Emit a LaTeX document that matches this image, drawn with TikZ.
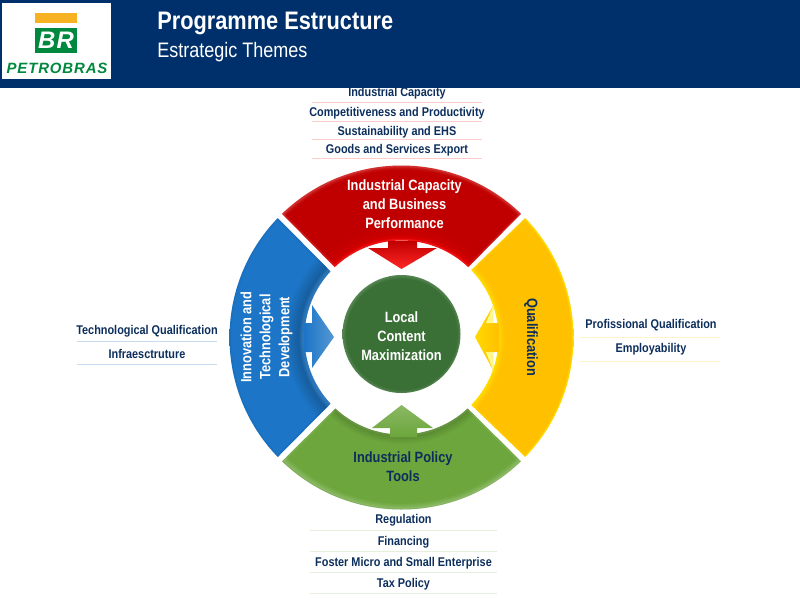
\documentclass[tikz,border=0pt]{standalone}
\usepackage{fontspec}
\setmainfont[FakeStretch=0.86]{Liberation Sans}
\newfontfamily\logofont[LetterSpace=6]{Liberation Sans}
\usepackage{xcolor}
\definecolor{navy}{RGB}{0,48,107}
\definecolor{darknavy}{RGB}{12,46,92}
\definecolor{logogreen}{RGB}{0,136,62}
\definecolor{logoyellow}{RGB}{247,178,35}
\definecolor{hubgreen}{RGB}{58,112,54}
\definecolor{brandred}{RGB}{192,0,0}
\definecolor{brandblue}{RGB}{28,117,198}
\definecolor{brandyellow}{RGB}{255,192,0}
\definecolor{brandgreen}{RGB}{108,166,60}
\pgfdeclareradialshading{redband}{\pgfpoint{0bp}{0bp}}{color(0bp)=(brandred); color(14bp)=(red!80!brandred); color(15bp)=(brandred!85!red); color(16.5bp)=(brandred); color(24.4bp)=(brandred); color(25bp)=(brandred!85!white); color(50bp)=(brandred)}
\pgfdeclareradialshading{blueband}{\pgfpoint{0bp}{0bp}}{color(0bp)=(brandblue); color(14bp)=(brandblue!85!white); color(15bp)=(brandblue!80!black); color(17bp)=(brandblue); color(25bp)=(brandblue); color(50bp)=(brandblue)}
\pgfdeclareradialshading{yellowband}{\pgfpoint{0bp}{0bp}}{color(0bp)=(brandyellow); color(14bp)=(yellow!40!brandyellow); color(15bp)=(brandyellow); color(24.6bp)=(brandyellow); color(25bp)=(yellow!40!brandyellow); color(50bp)=(brandyellow)}
\pgfdeclareradialshading{greenband}{\pgfpoint{0bp}{0bp}}{color(0bp)=(brandgreen); color(14bp)=(brandgreen!80!black); color(15.5bp)=(brandgreen); color(24bp)=(brandgreen); color(24.8bp)=(brandgreen!80!white); color(25bp)=(brandgreen!90!black); color(50bp)=(brandgreen)}
\pgfdeclareradialshading{hubshade}{\pgfpoint{0bp}{0bp}}{color(0bp)=(hubgreen); color(23.5bp)=(hubgreen); color(25bp)=(hubgreen!85!white); color(50bp)=(hubgreen)}
\newcommand{\bandpath}[4]{(#1:172) arc[start angle=#1,end angle=#2,radius=172] -- (#3:97) arc[start angle=#3,end angle=#4,radius=97] -- cycle}
\newcommand{\ringband}[6]{%
  \begin{scope}
    \clip \bandpath{#1}{#2}{#3}{#4};
    \shade[shading=#5] (0,0) circle[radius=172];
    \draw[#6,opacity=0.18,line width=2.5pt] \bandpath{#1}{#2}{#3}{#4};
  \end{scope}}
\tikzset{
  item/.style={font=\fontsize{9}{10}\selectfont\bfseries,text=darknavy,inner sep=0pt},
  bandlabel/.style={font=\fontsize{10.6}{13.5}\selectfont\bfseries,align=center,inner sep=0pt},
}
\begin{document}
\begin{tikzpicture}[x=0.025cm,y=-0.025cm]
  \useasboundingbox (0,0) rectangle (800,600);
  % Header
  \fill[navy] (0,0) rectangle (800,87.5);
  \fill[white] (2,3) rectangle (110.5,78.5);
  \fill[logoyellow] (35,13) rectangle (76.5,23);
  \fill[logogreen] (35,28) rectangle (76.5,53);
  \node[font=\logofont\fontsize{17}{18}\selectfont\bfseries\itshape,text=white,inner sep=0pt] (brtext) at (56,40){BR};
  \node[font=\logofont\fontsize{10.6}{12}\selectfont\bfseries\itshape,text=logogreen,inner sep=0pt] (logotext) at (57,68){PETROBRAS};
  \node[anchor=west,font=\fontsize{18}{20}\selectfont\bfseries,text=white,inner sep=0pt] (title) at (157,23.5){Programme Estructure};
  \node[anchor=west,font=\fontsize{14.9}{18}\selectfont,text=white,inner sep=0pt] (subtitle) at (157,52.5){Estrategic Themes};
  % Ring
  \begin{scope}[shift={(401.5,337.5)},x=0.025cm,y=0.025cm]
    \ringband{134}{46}{46.5}{133.5}{redband}{red!60!white}
    \ringband{136}{224}{223}{137}{blueband}{brandblue!80!black}
    \ringband{226}{314}{313}{227}{greenband}{brandgreen!60!white}
    \ringband{-44}{44}{44}{-44}{yellowband}{yellow}
    \shade[shading=hubshade] (0,3.5) circle[radius=59];
  \end{scope}
  % Arrows
  \shade[top color=brandred,bottom color=red!85!white] (388,241)--(417,241)--(417,248)--(437,248)--(401.5,269)--(368,248)--(388,248)--cycle;
  \shade[left color=brandblue,right color=brandblue!75!white] (304,323)--(312,323)--(312,305)--(334,337)--(312,368)--(312,352)--(304,352)--cycle;
  \shade[left color=yellow!40!brandyellow,right color=brandyellow] (475,337)--(493,306)--(493,323)--(499,323)--(499,352)--(493,352)--(493,370)--cycle;
  \fill[yellow!45!white] (493,306)--(493,323)--(486,323)--cycle;
  \fill[yellow!45!white] (493,370)--(493,352)--(486,352)--cycle;
  \shade[top color=brandgreen!80!white,bottom color=brandgreen] (401.5,405)--(433,428)--(417,428)--(417,437)--(390,437)--(390,428)--(372,428)--cycle;
  % Band labels
  \node[bandlabel,text=white] (capacity) at (404.5,204){Industrial Capacity\\and Business\\Performance};
  \node[bandlabel,text=white,rotate=90] (innovation) at (266.5,337){Innovation and\\Technological\\Development};
  \node[bandlabel,text=darknavy,rotate=-90] (qualification) at (531,337){Qualification};
  \node[bandlabel,text=darknavy] (policy) at (403,467){Industrial Policy\\Tools};
  \node[bandlabel,text=white] (hub) at (401.5,336){Local\\Content\\Maximization};
  % Top list
  \node[item] (top1) at (397,93.5){Industrial Capacity};
  \node[item] (top2) at (397,113.5){Competitiveness and Productivity};
  \node[item] (top3) at (397,132){Sustainability and EHS};
  \node[item] (top4) at (397,150.5){Goods and Services Export};
  \foreach \y in {102,121,139,158}
    \draw[red!20!white,thin] (312,\y)--(482,\y);
  % Left list
  \node[item] (left1) at (147,331){Technological Qualification};
  \node[item] (left2) at (147,354){Infraesctruture};
  \foreach \y in {341,364}
    \draw[brandblue!25!white,thin] (77,\y)--(217,\y);
  % Right list
  \node[item] (right1) at (651,325.5){Profissional Qualification};
  \node[item] (right2) at (651,349.5){Employability};
  \foreach \y in {337,361}
    \draw[brandyellow!20!white,thin] (580,\y)--(720,\y);
  % Bottom list
  \node[item] (bottom1) at (403.5,520.5){Regulation};
  \node[item] (bottom2) at (403.5,542.5){Financing};
  \node[item] (bottom3) at (403.5,563.5){Foster Micro and Small Enterprise};
  \node[item] (bottom4) at (403.5,584.5){Tax Policy};
  \foreach \y in {530,551,572,593}
    \draw[brandgreen!18!white,thin] (310,\y)--(497,\y);
\end{tikzpicture}
\end{document}
